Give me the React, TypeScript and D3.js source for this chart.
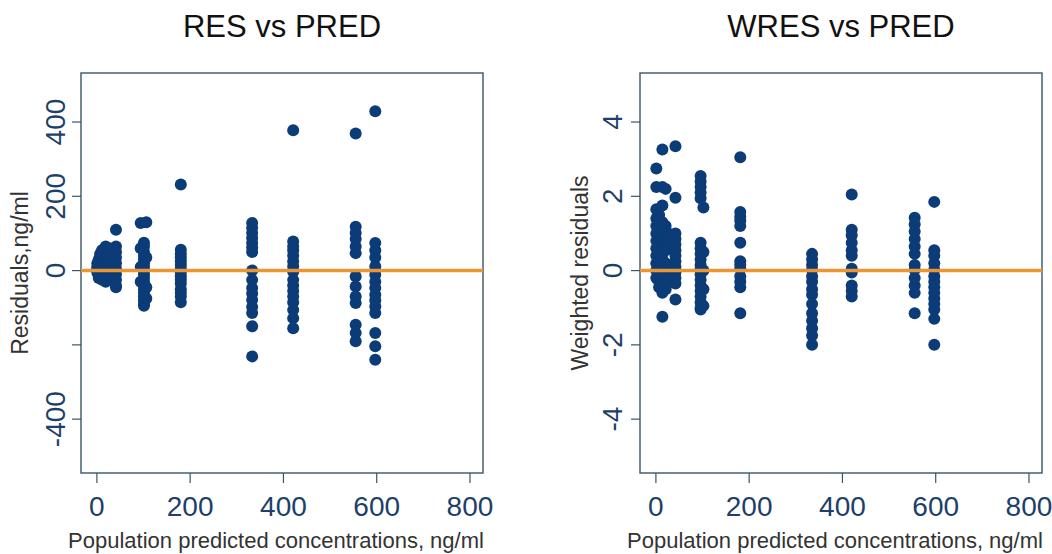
import * as React from 'react';
import * as d3 from 'd3';

// predicted concentration (ng/ml) and residuals, read column by column
const resGroups: [number, number[]][] = [
    [2, [20, 10, 5, 0, -5]],
    [5, [30, 15, -10, -20]],
    [8, [45, 25, 10, -15]],
    [12, [55, 35, 20, 0, -25]],
    [16, [40, 15, -8]],
    [20, [65, 50, 30, 5, -30]],
    [25, [60, 40, 20, -10, -20]],
    [30, [30, 10, -15]],
    [42, [110, 65, 50, 35, 20, 5, -10, -25, -40, -45]],
    [95, [128, 60, 10, -30]],
    [102, [75, 65, 50, 40, 30, 20, 10, 0, -10, -20, -30, -40, -50, -60, -70, -80, -90, -95]],
    [107, [130, 35, -45, -75]],
    [181, [232, 56, 45, 35, 25, 15, 5, -5, -15, -25, -35, -50, -60, -70, -85]],
    [334, [128, 115, 101, 88, 74, 62, 50, 0, -25, -47, -62, -79, -98, -114, -150, -231]],
    [422, [378, 78, 65, 55, 40, 25, 11, -3, -25, -40, -55, -70, -85, -106, -128, -155]],
    [556, [369, 118, 101, 85, 65, 47, -16, -43, -70, -87, -146, -168, -190]],
    [598, [429, 74, 55, 35, 11, -11, -30, -47, -65, -80, -97, -114, -168, -204, -240]],
];

// predicted concentration (ng/ml) and weighted residuals
const wresGroups: [number, number[]][] = [
    [2, [2.75, 2.25, 1.65, 1.4, 1.2, 1.0, 0.8, 0.6, 0.4, 0.2, 0.0, -0.2]],
    [8, [1.5, 1.1, 0.9, 0.7, 0.5, 0.3, 0.1, -0.1, -0.3, -0.45]],
    [15, [3.26, 2.25, 1.75, 1.3, 1.0, 0.8, 0.6, 0.45, 0.3, -0.4, -0.6, -1.24]],
    [22, [2.2, 1.2, 0.95, 0.75, 0.55, 0.2, 0.05, -0.25, -0.5]],
    [28, [1.0, 0.8, 0.6, -0.1, -0.3]],
    [43, [3.35, 1.96, 1.0, 0.85, 0.7, 0.55, 0.4, 0.25, 0.1, -0.05, -0.2, -0.35, -0.78]],
    [97, [2.55, 2.4, 2.25, 2.1, 1.95, 0.75, 0.6, 0.45, 0.3, 0.15, 0.05, -0.1, -0.25, -0.4, -0.55, -0.7, -0.85, -1.0, -1.05]],
    [103, [1.7, 0.5, 0.0, -0.5, -0.95]],
    [182, [3.05, 1.58, 1.45, 1.35, 1.2, 0.75, 0.25, 0.15, 0.05, -0.15, -0.3, -0.45, -1.15]],
    [336, [0.45, 0.3, 0.15, 0.02, -0.15, -0.3, -0.5, -0.65, -0.9, -1.15, -1.35, -1.55, -1.75, -2.0]],
    [421, [2.05, 1.1, 0.95, 0.75, 0.55, 0.4, 0.05, -0.05, -0.4, -0.55, -0.7]],
    [556, [1.42, 1.25, 1.05, 0.85, 0.65, 0.45, 0.15, 0.02, -0.2, -0.4, -0.6, -1.15]],
    [598, [1.85, 0.55, 0.4, 0.2, 0.02, -0.15, -0.3, -0.45, -0.6, -0.75, -0.9, -1.05, -1.3, -2.0]],
];

const xTicks = [0, 200, 400, 600, 800];
const resTicks = [400, 200, 0, -200, -400];
const resTickLabels = ['400', '200', '0', '', '-400'];
const wresTicks = [4, 2, 0, -2, -4];
const wresTickLabels = ['4', '2', '0', '-2', '-4'];

const titles = ['RES vs PRED', 'WRES vs PRED'];
const yTitles = ['Residuals,ng/ml', 'Weighted residuals'];
const xTitle = 'Population predicted concentrations, ng/ml';

type Panel = {
    left: number,
    groups: [number, number[]][],
    yDomain: [number, number],
    ticks: number[],
    tickLabels: string[],
    title: string,
    yTitle: string,
    tickLabelX: number,
    yTitleX: number,
};

const FONT = '"Liberation Sans", Arial, sans-serif';
const NAVY = '#0b3c78';
const LABEL = '#1d3f6a';
const FRAME = '#3a5568';

const App = () => {
    const ref = React.useRef<SVGSVGElement>(null);

    React.useEffect(() => {
        const svg = d3.select(ref.current);
        svg.selectAll('*').remove();

        const top = 73, bottom = 473, width = 402;

        const panels: Panel[] = [
            { left: 81, groups: resGroups, yDomain: [-545, 532], ticks: resTicks, tickLabels: resTickLabels,
              title: titles[0], yTitle: yTitles[0], tickLabelX: 65, yTitleX: 28 },
            { left: 640, groups: wresGroups, yDomain: [-5.45, 5.32], ticks: wresTicks, tickLabels: wresTickLabels,
              title: titles[1], yTitle: yTitles[1], tickLabelX: 622, yTitleX: 588 },
        ];

        panels.forEach(p => {
            const x = d3.scaleLinear().domain([-33, 829]).range([p.left, p.left + width]);
            const y = d3.scaleLinear().domain(p.yDomain).range([bottom, top]);
            const g = svg.append('g');

            g.append('rect')
                .attr('x', p.left).attr('y', top)
                .attr('width', width).attr('height', bottom - top)
                .attr('fill', '#fff')
                .attr('stroke', FRAME).attr('stroke-width', 1.4);

            // x axis
            const xAxis = d3.axisBottom(x).tickValues(xTicks).tickSize(10).tickPadding(13).tickFormat(d3.format('d'));
            g.append('g')
                .attr('transform', `translate(0,${bottom})`)
                .call(xAxis)
                .call(a => a.select('.domain').remove())
                .call(a => a.selectAll('line').attr('stroke', FRAME).attr('stroke-width', 1.2))
                .call(a => a.selectAll('text')
                    .attr('font-family', FONT).attr('font-size', 28).attr('fill', LABEL));

            // y axis ticks
            g.selectAll('.ytick')
                .data(p.ticks)
                .join('line')
                .attr('x1', p.left - 9).attr('x2', p.left)
                .attr('y1', d => y(d)).attr('y2', d => y(d))
                .attr('stroke', FRAME).attr('stroke-width', 1.2);

            g.selectAll('.ylab')
                .data(p.ticks)
                .join('text')
                .attr('transform', d => `translate(${p.tickLabelX},${y(d)}) rotate(-90)`)
                .attr('text-anchor', 'middle')
                .attr('font-family', FONT).attr('font-size', 28).attr('fill', LABEL)
                .text((d, i) => p.tickLabels[i]);

            // points
            const pts = p.groups.flatMap(([px, vals]) => vals.map(v => ({ px, v })));
            g.selectAll('circle')
                .data(pts)
                .join('circle')
                .attr('cx', d => x(d.px))
                .attr('cy', d => y(d.v))
                .attr('r', 6)
                .attr('fill', NAVY);

            // zero reference line
            g.append('line')
                .attr('x1', p.left).attr('x2', p.left + width)
                .attr('y1', y(0)).attr('y2', y(0))
                .attr('stroke', '#ec9533').attr('stroke-width', 3.5);

            g.append('text')
                .attr('x', p.left + width / 2).attr('y', 37)
                .attr('text-anchor', 'middle')
                .attr('font-family', FONT).attr('font-size', 31).attr('fill', '#111')
                .text(p.title);

            g.append('text')
                .attr('transform', `translate(${p.yTitleX},${(top + bottom) / 2}) rotate(-90)`)
                .attr('text-anchor', 'middle')
                .attr('font-family', FONT).attr('font-size', 23).attr('fill', '#333')
                .text(p.yTitle);

            g.append('text')
                .attr('x', p.left + width / 2 - 6).attr('y', 548)
                .attr('text-anchor', 'middle')
                .attr('font-family', FONT).attr('font-size', 22).attr('fill', '#333')
                .text(xTitle);
        });
    }, []);

    return (
        <svg ref={ref} width={1052} height={554}
            style={{ position: 'absolute', left: 0, top: 0, background: '#fff' }} />
    );
};

export default App;
